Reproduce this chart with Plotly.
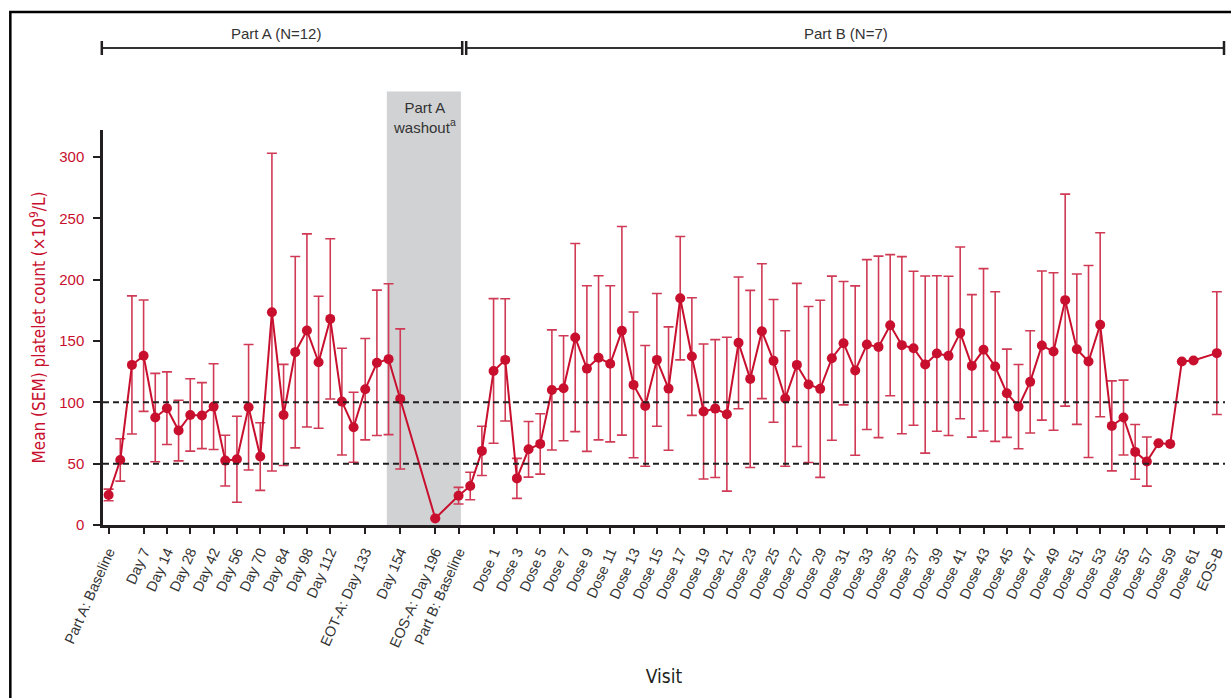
import math
import plotly.graph_objects as go

# Visit slots on the horizontal axis (one slot per scheduled assessment)
part_a_slots = list(range(0, 26))
part_a_mean = [24.5, 53, 130.5, 138, 87.6, 95.2, 77, 89.7, 89.2, 96.5, 52.5, 53.6, 96,
               55.8, 173.5, 89.7, 140.9, 158.6, 132.7, 168, 100.6, 79.7, 110.7, 132.2,
               135.2, 102.8]
part_a_sem = [4.75, 17.25, 56.3, 45.4, 36, 29.6, 24.75, 29.5, 26.9, 35, 20.7, 35, 51.2,
              27.6, 129.5, 41.2, 78, 78.7, 53.8, 65.3, 43.5, 28.5, 41.3, 59.3, 61.5, 57.1]

# End of study visit for Part A (after washout)
eos_a_slots = [28]
eos_a_mean = [5.4]
eos_a_sem = [math.nan]

# Part B: baseline, two pre-dose visits, Dose 1 .. Dose 61, then EOS-B
part_b_slots = [30, 31, 32] + list(range(33, 94)) + [95]
part_b_mean = [23.9, 31.8, 60.4,
               125.6, 134.6, 38, 61.7, 66.1, 110.1, 111.5, 152.8, 127.5, 136.3,
               131.4, 158.3, 114.2, 97.1, 134.6, 111.2, 184.9, 137.3, 92.5, 94.9,
               90.3, 148.5, 119.1, 158, 133.8, 103.1, 130.5, 114.5, 111, 136,
               148.2, 125.9, 147.1, 145.2, 162.9, 146.6, 144.1, 130.8, 139.8, 137.9,
               156.6, 129.7, 142.8, 129.2, 107.4, 96.5, 116.7, 146.3, 141.4, 183.3,
               143.3, 133.3, 163.2, 80.8, 87.6, 59.6, 51.7, 66.6, 66.1, 133.3, 134.1,
               140.1]
part_b_sem = [6.8, 11.2, 20.1,
              58.9, 49.8, 16.3, 22.7, 24.6, 49, 42.8, 76.7, 67.5, 66.9,
              63.6, 85, 59.4, 49.2, 54.1, 50.3, 50.3, 47.9, 55, 56.2,
              62.7, 53.7, 72.2, 55, 50, 55.2, 66.5, 63.6, 72.2, 66.9,
              50.3, 69, 69.2, 74, 57.5, 72.2, 62.8, 72.2, 63.4, 64.9,
              70, 58.1, 66.2, 61, 36, 34.3, 41.7, 60.8, 64.2, 86.4,
              61.3, 78.3, 75, 36.7, 30.5, 22.3, 20, math.nan, math.nan, math.nan, math.nan,
              50]

# Labelled ticks
tick_slots = [0, 3, 5, 7, 9, 11, 13, 15, 17, 19, 22, 25, 28, 30] + list(range(33, 94, 2)) + [95]
tick_text = ["Part A: Baseline", "Day 7", "Day 14", "Day 28", "Day 42", "Day 56", "Day 70",
             "Day 84", "Day 98", "Day 112", "EOT-A: Day 133", "Day 154", "EOS-A: Day 196",
             "Part B: Baseline"] + [f"Dose {d}" for d in range(1, 62, 2)] + ["EOS-B"]

thresholds = [50, 100]
washout_span = [23.85, 30.2]

x_all = part_a_slots + eos_a_slots + part_b_slots
y_all = part_a_mean + eos_a_mean + part_b_mean
e_all = part_a_sem + eos_a_sem + part_b_sem

RED = "#c8102e"
ERR = "#d03a55"
DARK = "#231f20"
FONT = "Liberation Sans, Arial, sans-serif"
NARROW = "Liberation Sans Narrow, DejaVu Sans Condensed, Arial Narrow, sans-serif"

W, H = 1231, 698
L, R, T, B = 102.7, 1225, 130, 525   # plot area in pixels


def px(x):
    return (x - L) / (R - L)


def py(y):
    return (B - y) / (B - T)


fig = go.Figure()

fig.add_trace(go.Scatter(
    x=x_all, y=y_all, mode="lines+markers",
    line=dict(color=RED, width=2),
    marker=dict(color=RED, size=10),
    error_y=dict(type="data", array=e_all, visible=True, color=ERR,
                 thickness=1.6, width=5),
    showlegend=False, cliponaxis=False,
))

shapes = []
# washout band
shapes.append(dict(type="rect", xref="x", yref="paper", x0=washout_span[0], x1=washout_span[1],
                   y0=0, y1=py(91.5), fillcolor="#d1d2d4", line=dict(width=0), layer="below"))
# reference lines
for t in thresholds:
    shapes.append(dict(type="line", xref="paper", yref="y", x0=0, x1=1, y0=t, y1=t,
                       line=dict(color=DARK, width=2, dash="6px,4px")))
# Part A / Part B brackets
for x0, x1 in [(101.5, 462), (466, 1224)]:
    shapes.append(dict(type="line", xref="paper", yref="paper", x0=px(x0), x1=px(x1),
                       y0=py(48), y1=py(48), line=dict(color="#333333", width=2)))
    for xc in (x0, x1):
        shapes.append(dict(type="line", xref="paper", yref="paper", x0=px(xc), x1=px(xc),
                           y0=py(41), y1=py(55), line=dict(color=DARK, width=2.5)))
# outer frame
shapes.append(dict(type="rect", xref="paper", yref="paper", x0=px(10), x1=px(1245),
                   y0=py(712), y1=py(12), line=dict(color="black", width=2.5)))

annotations = [
    dict(text="Part A (N=12)", x=px(276), y=py(33), xref="paper", yref="paper",
         xanchor="center", yanchor="middle", showarrow=False,
         font=dict(family=FONT, size=15, color="#333333")),
    dict(text="Part B (N=7)", x=px(846), y=py(33), xref="paper", yref="paper",
         xanchor="center", yanchor="middle", showarrow=False,
         font=dict(family=FONT, size=15, color="#333333")),
    dict(text="Part A<br>washout<sup>a</sup>", x=px(424), y=py(117), xref="paper",
         yref="paper", xanchor="center", yanchor="middle", showarrow=False, align="center",
         font=dict(family=FONT, size=15, color="#333333")),
]

fig.update_layout(
    width=W, height=H,
    margin=dict(l=L, r=W - R, t=T, b=H - B, autoexpand=False),
    paper_bgcolor="white", plot_bgcolor="white",
    shapes=shapes, annotations=annotations,
    font=dict(family=FONT),
)

fig.update_xaxes(
    range=[-0.48, 95.7], showgrid=False, zeroline=False,
    tickmode="array", tickvals=tick_slots, ticktext=tick_text, tickangle=-66,
    ticks="outside", ticklen=6, tickwidth=2, tickcolor=DARK,
    showline=True, linecolor=DARK, linewidth=2.5,
    tickfont=dict(family=FONT, size=14.5, color="#333333"), ticklabelstandoff=4,
    title=dict(text="Visit", font=dict(family=NARROW, size=19, color=DARK), standoff=21),
    automargin=False,
)
fig.update_yaxes(
    range=[0, 322], showgrid=False, zeroline=False,
    tickmode="array", tickvals=[0, 50, 100, 150, 200, 250, 300],
    ticks="outside", ticklen=7, tickwidth=2, tickcolor=DARK,
    showline=True, linecolor=DARK, linewidth=2.5,
    tickfont=dict(family=FONT, size=15, color=RED), ticklabelstandoff=6,
    title=dict(text="Mean (SEM) platelet count (×10<sup>9</sup>/L)",
               font=dict(family=NARROW, size=17, color=RED), standoff=10),
    automargin=False,
)

fig.write_html("out.html")
